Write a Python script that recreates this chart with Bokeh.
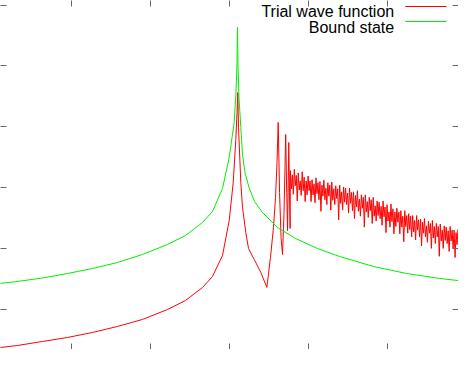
from bokeh.plotting import figure
from bokeh.models import (Range1d, LinearAxis, FixedTicker, Label, Arrow,
                          CustomJSTickFormatter)
from bokeh.embed import file_html
from bokeh.resources import INLINE

# ---- data (arbitrary units) ----
x_ticks = [0, 10, 20, 30, 40, 50, 60]
y_ticks = [0, 10, 20, 30, 40, 50]

bound_x = [0.00, 3.17, 6.34, 9.51, 12.67, 15.84, 19.01, 22.18, 24.46, 26.62, 27.88,
           29.15, 30.00, 30.63, 30.86, 30.99, 31.05, 31.12, 31.24, 31.47, 31.69,
           32.00, 32.51, 33.21, 34.22, 36.12, 38.40, 41.19, 43.98, 48.29, 52.47,
           56.65, 60.08]
bound_y = [4.11, 4.56, 5.13, 5.87, 6.69, 7.68, 9.00, 10.64, 12.12, 14.26, 16.07,
           19.85, 24.95, 30.71, 35.64, 40.58, 46.33, 39.75, 34.82, 29.88, 25.28,
           22.48, 20.02, 17.71, 15.90, 13.44, 11.63, 9.98, 8.67, 7.02, 5.87,
           5.05, 4.56]

trial_x = [0.00, 3.17, 6.34, 9.51, 12.67, 15.84, 19.01, 22.18, 24.46, 26.62, 27.88,
           29.15, 30.00, 30.51, 30.84, 30.99, 31.09, 31.18, 31.47, 31.69, 32.10,
           32.45, 33.17, 34.01, 34.77, 35.23, 35.61, 35.87, 36.06, 36.21, 36.38,
           36.57, 36.76, 36.95, 37.07, 37.16, 37.29, 37.39, 37.48, 37.55, 37.64,
           37.72]
trial_y = [-6.46, -5.97, -5.31, -4.65, -3.83, -2.84, -1.69, -0.05, 1.43, 3.57, 5.38,
           8.83, 14.59, 20.84, 27.91, 32.35, 35.64, 29.88, 20.84, 16.73, 12.62,
           9.98, 8.17, 6.04, 3.57, 8.50, 13.44, 18.37, 24.13, 30.71, 19.19,
           11.79, 8.99, 15.90, 23.31, 28.74, 19.19, 12.94, 20.84, 27.42, 19.19,
           13.27]

# noisy tail of the trial wave function, sampled every 0.125 units from 37.75
tail_start = 37.75
tail_step = 0.125
tail_y = [
    22.8, 19.8, 22.1, 18.9, 23.0, 20.3, 22.0, 17.8, 22.4, 19.6, 21.1, 18.7, 22.6, 19.5,
    21.7, 17.7, 21.1, 18.8, 21.9, 19.5, 21.1, 17.7,
    21.3, 18.8, 20.6, 17.5, 21.6, 19.0, 20.8, 18.0, 21.0, 16.1, 20.4, 18.6, 21.2, 18.0,
    19.9, 17.2, 20.8, 18.6, 20.4, 16.3, 20.9, 17.9, 19.8, 17.2, 20.3, 18.2, 19.8, 14.7,
    20.4, 17.4, 19.3, 16.3, 20.1, 17.6,
    19.9, 17.2, 19.1, 15.8, 19.9, 17.4, 19.2, 16.2, 19.3, 14.9, 18.7, 16.8, 19.5, 16.1,
    18.1, 15.3, 18.8, 16.6, 18.4, 13.5, 18.8, 16.0, 17.7, 15.1, 18.4, 16.2, 18.0, 14.1,
    18.4, 15.3, 17.0, 14.5, 17.8, 15.4,
    17.6, 14.9, 16.9, 13.8, 17.8, 15.2, 16.8, 12.6, 17.2, 14.5, 16.0, 13.5, 17.3, 14.4,
    16.5, 12.4, 16.0, 13.6, 16.6, 14.3, 16.0, 12.4, 16.2, 13.5, 15.3, 11.1, 16.2, 13.6,
    15.4, 12.5, 15.7, 13.1, 15.3, 11.9,
    15.4, 12.7, 14.6, 11.4, 15.4, 13.0, 14.7, 11.9, 14.8, 10.4, 14.3, 12.5, 14.9, 11.9,
    13.7, 11.0, 14.5, 12.5, 14.1, 10.0, 14.6, 11.7, 13.6, 10.8, 14.1, 11.9, 13.6, 8.7,
    14.0, 11.2, 13.0, 10.0, 13.7, 11.3,
    13.5, 10.8, 12.9, 9.5, 13.6, 11.2, 13.0, 10.0, 13.0, 8.5, 12.6, 10.6, 13.1, 10.1,
    12.0, 9.3, 12.7, 10.6, 12.4, 9.0,
]
tail_x = [tail_start + tail_step * i for i in range(len(tail_y))]

trial_all_x = trial_x + tail_x
trial_all_y = trial_y + tail_y

series_names = ["Trial wave function", "Bound state"]
series_colors = ["#ff0000", "#00ee00"]

# ---- figure (placed at the page's 8px margin) ----
W, H = 458, 349
p = figure(width=W, height=H,
           x_range=Range1d(1.014, 59.06), y_range=Range1d(-6.63, 50.77),
           output_backend="svg", toolbar_location=None, min_border=0,
           x_axis_location=None, y_axis_location=None)
p.outline_line_color = None
p.xgrid.grid_line_color = None
p.ygrid.grid_line_color = None
p.background_fill_color = "white"
p.border_fill_color = "white"

def make_axis(ticks):
    ax = LinearAxis(ticker=FixedTicker(ticks=ticks),
                    formatter=CustomJSTickFormatter(code="return ''"))
    ax.axis_line_color = None
    ax.major_tick_in = 6
    ax.major_tick_out = 0
    ax.minor_tick_line_color = None
    ax.major_tick_line_color = "#666666"
    ax.major_tick_line_width = 1
    ax.major_label_text_font_size = "1px"
    ax.major_label_standoff = 0
    ax.axis_label = None
    return ax

p.add_layout(make_axis(x_ticks), "below")
p.add_layout(make_axis(x_ticks), "above")
p.add_layout(make_axis(y_ticks), "left")
p.add_layout(make_axis(y_ticks), "right")

p.line(trial_all_x, trial_all_y, line_color=series_colors[0], line_width=1)
p.line(bound_x, bound_y, line_color=series_colors[1], line_width=1)

# key (gnuplot style): right-aligned text, then a short line sample to its right
key_text_x = 50.91
key_text_y = [48.88, 46.25]
key_sample_px = (404.7, 446)          # screen px from the left of the plot
key_sample_py = [H - 6, H - 21]       # screen px from the bottom of the plot
for name, ty, sy, col in zip(series_names, key_text_y, key_sample_py, series_colors):
    p.add_layout(Label(x=key_text_x, y=ty, text=name, text_align="right",
                       text_baseline="alphabetic", text_font="Liberation Sans",
                       text_font_size="16px", text_color="black"))
    p.add_layout(Arrow(start=None, end=None,
                       x_start=key_sample_px[0], y_start=sy,
                       x_end=key_sample_px[1], y_end=sy,
                       start_units="screen", end_units="screen",
                       line_color=col, line_width=1))

open("out.html", "w").write(file_html(p, INLINE))
